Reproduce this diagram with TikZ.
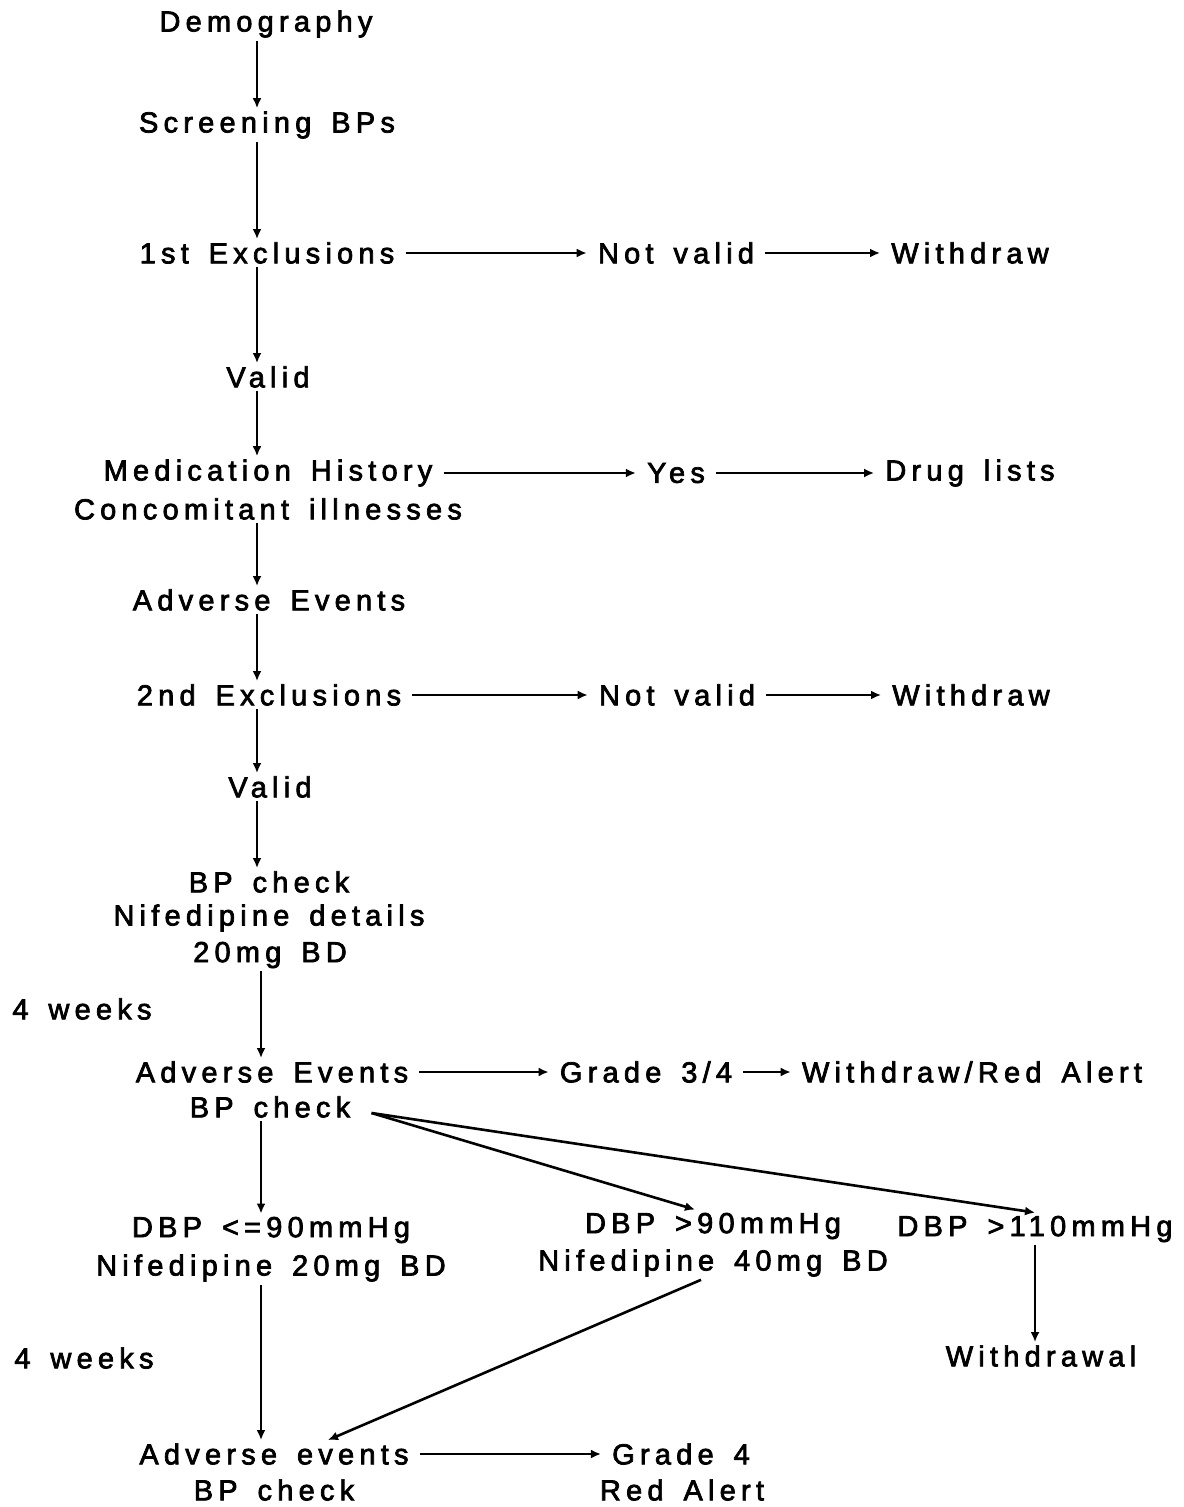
\documentclass[tikz,border=0pt]{standalone}
\usepackage{fontspec}
\setmainfont{Liberation Sans}[LetterSpace=18,WordSpace=1.5,FakeBold=2.5]
\usepackage{tikz}
\usetikzlibrary{arrows.meta}
\tikzset{
	>={Latex[length=5pt,width=4.5pt]},
	entry/.style = {
			inner xsep = 5pt,
			inner ysep = 1pt,
			font       = \fontsize{14.5}{16}\selectfont,
		}
}

\begin{document}
\begin{tikzpicture}[x=0.5pt,y=-0.5pt,line width=1.3pt]
	\useasboundingbox (0,0) rectangle (1183,1507);
	% Flow
	\coordinate (Spine) at (257,0);
	\coordinate (Lower spine) at (261,0);

	\node[entry] (Demography) at (266,24) {Demography};
	\node[entry] (Screening BPs) at (267,125) {Screening BPs};
	\node[entry] (1st Exclusions) at (267,253) {1st Exclusions};
	\node[entry] (Not valid1) at (676,253) {Not valid};
	\node[entry] (Withdraw1) at (970,253) {Withdraw};
	\node[entry] (Valid1) at (268,377) {Valid};
	\node[entry] (Medication History) at (268,473) {Medication History};
	\node[entry] (Concomitant illnesses) at (268,509) {Concomitant illnesses};
	\node[entry] (Yes) at (676,473) {Yes};
	\node[entry] (Drug lists) at (970,473) {Drug lists};
	\node[entry] (Adverse Events1) at (269,600) {Adverse Events};
	\node[entry] (2nd Exclusions) at (269,695) {2nd Exclusions};
	\node[entry] (Not valid2) at (677,695) {Not valid};
	\node[entry] (Withdraw2) at (971,695) {Withdraw};
	\node[entry] (Valid2) at (270,787) {Valid};
	\node[entry] (BP check1) at (269,882) {BP check};
	\node[entry] (Nifedipine details) at (269,918) {Nifedipine details};
	\node[entry] (20mg BD) at (270,955) {20mg BD};
	\node[entry] (4 weeks1) at (82,1009) {4 weeks};
	\node[entry] (Adverse Events2) at (272,1072) {Adverse Events};
	\node[entry] (BP check2) at (270,1107) {BP check};
	\node[entry] (Grade34) at (646,1072) {Grade 3/4};
	\node[entry] (Withdraw Red Alert) at (972,1072) {Withdraw/Red Alert};
	\node[entry] (DBP90a) at (271,1230) {DBP <=90mmHg};
	\node[entry] (Nifedipine 20mg) at (271,1268) {Nifedipine 20mg BD};
	\node[entry] (DBP90b) at (713,1226) {DBP >90mmHg};
	\node[entry] (Nifedipine 40mg) at (713,1263) {Nifedipine 40mg BD};
	\node[entry] (DBP110) at (1035,1229) {DBP >110mmHg};
	\node[entry] (Withdrawal) at (1041,1356) {Withdrawal};
	\node[entry] (4 weeks2) at (84,1358) {4 weeks};
	\node[entry] (Adverse events3) at (274,1454) {Adverse events};
	\node[entry] (BP check3) at (274,1490) {BP check};
	\node[entry] (Grade 4) at (681,1454) {Grade 4};
	\node[entry] (Red Alert) at (682,1490) {Red Alert};

	\draw[->,draw=black] (Demography.south -| Spine) to (Screening BPs.north -| Spine);
	\draw[->,draw=black] (Screening BPs.south -| Spine) to (1st Exclusions.north -| Spine);
	\draw[->,draw=black] (1st Exclusions.south -| Spine) to (Valid1.north -| Spine);
	\draw[->,draw=black] (Valid1.south -| Spine) to (Medication History.north -| Spine);
	\draw[->,draw=black] (Concomitant illnesses.south -| Spine) to (Adverse Events1.north -| Spine);
	\draw[->,draw=black] (Adverse Events1.south -| Spine) to (2nd Exclusions.north -| Spine);
	\draw[->,draw=black] (2nd Exclusions.south -| Spine) to (Valid2.north -| Spine);
	\draw[->,draw=black] (Valid2.south -| Spine) to (BP check1.north -| Spine);
	\draw[->,draw=black] (20mg BD.south -| Lower spine) to (Adverse Events2.north -| Lower spine);
	\draw[->,draw=black] (BP check2.south -| Lower spine) to (DBP90a.north -| Lower spine);
	\draw[->,draw=black] (Nifedipine 20mg.south -| Lower spine) to (Adverse events3.north -| Lower spine);
	\draw[->,draw=black] (DBP110.south) to (Withdrawal.north -| DBP110.south);

	\draw[->,draw=black] (1st Exclusions) to (Not valid1);
	\draw[->,draw=black] (Not valid1) to (Withdraw1);
	\draw[->,draw=black] (Medication History) to (Yes);
	\draw[->,draw=black] (Yes) to (Drug lists);
	\draw[->,draw=black] (2nd Exclusions) to (Not valid2);
	\draw[->,draw=black] (Not valid2) to (Withdraw2);
	\draw[->,draw=black] (Adverse Events2) to (Grade34);
	\draw[->,draw=black] (Grade34) to (Withdraw Red Alert);
	\draw[->,draw=black] (Adverse events3) to (Grade 4);

	\draw[->,draw=black] ([shift={(5pt,-3pt)}]BP check2.east) to ([xshift=-9pt]DBP90b.north);
	\draw[->,draw=black] ([shift={(5pt,-3pt)}]BP check2.east) to (DBP110.north);
	\draw[->,draw=black] ([xshift=-6pt]Nifedipine 40mg.south) to ([xshift=27pt]Adverse events3.north);
\end{tikzpicture}
\end{document}
